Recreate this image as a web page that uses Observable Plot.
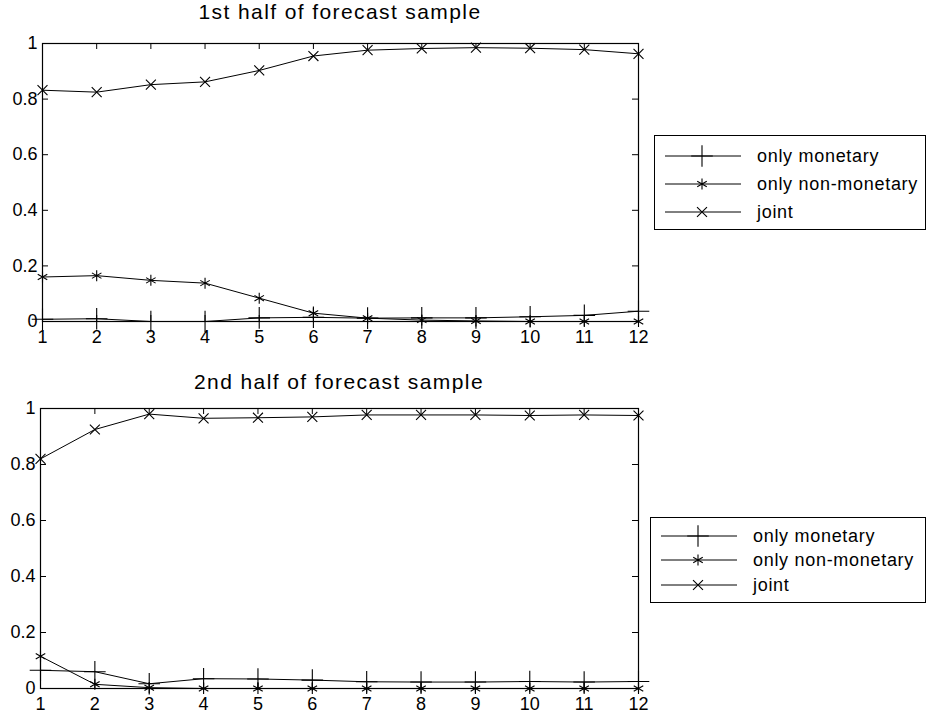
<!DOCTYPE html>
<html>
<head>
<meta charset="utf-8">
<script src="https://cdn.jsdelivr.net/npm/d3@7"></script>
<script src="https://cdn.jsdelivr.net/npm/@observablehq/plot@0.6"></script>
<style>
  body { margin: 0; background: #fff; font-family: "Liberation Sans", Arial, sans-serif; }
  #wrap { position: relative; width: 928px; height: 724px; overflow: hidden; }
  .panel { position: absolute; left: 0; }
  .title { position: absolute; font-size: 21px; letter-spacing: 1.4px; color: #000; white-space: nowrap; transform: translateX(-50%); }
  .legend { position: absolute; border: 1.5px solid #000; background: #fff; box-sizing: border-box; }
  .legend .row { position: absolute; left: 0; height: 24px; display: flex; align-items: center; }
  .legend .row span { font-size: 18px; letter-spacing: 0.7px; }
</style>
</head>
<body>
<div id="wrap"></div>
<script>
// ---- data ----
const horizons = [1, 2, 3, 4, 5, 6, 7, 8, 9, 10, 11, 12];
const seriesNames = ["only monetary", "only non-monetary", "joint"];
const titles = ["1st half of forecast sample", "2nd half of forecast sample"];

const first_monetary    = [0.008, 0.010, 0.000, 0.000, 0.013, 0.015, 0.012, 0.013, 0.013, 0.017, 0.022, 0.037];
const first_nonmonetary = [0.160, 0.165, 0.148, 0.138, 0.084, 0.030, 0.012, 0.005, 0.002, 0.000, 0.000, 0.000];
const first_joint       = [0.832, 0.825, 0.852, 0.862, 0.903, 0.955, 0.976, 0.982, 0.985, 0.983, 0.978, 0.963];

const second_monetary    = [0.065, 0.060, 0.017, 0.035, 0.034, 0.030, 0.024, 0.023, 0.023, 0.025, 0.023, 0.025];
const second_nonmonetary = [0.115, 0.015, 0.003, 0.000, 0.000, 0.000, 0.000, 0.000, 0.000, 0.000, 0.000, 0.000];
const second_joint       = [0.820, 0.925, 0.980, 0.965, 0.967, 0.970, 0.977, 0.977, 0.977, 0.975, 0.977, 0.975];

const yTicks = [0, 0.2, 0.4, 0.6, 0.8, 1];
const xTicks = horizons;

// ---- styling ----
const symbols = {"only monetary": "plus", "only non-monetary": "asterisk", "joint": "times"};
const radii = {"only monetary": 7, "only non-monetary": 5.2, "joint": 4.6};
const d3Symbols = {"plus": d3.symbolPlus, "asterisk": d3.symbolAsterisk, "times": d3.symbolTimes};

function toRows(mon, non, joint) {
  const rows = [];
  horizons.forEach((h, i) => {
    rows.push({h, v: mon[i], s: seriesNames[0]});
    rows.push({h, v: non[i], s: seriesNames[1]});
    rows.push({h, v: joint[i], s: seriesNames[2]});
  });
  return rows;
}

const panels = [
  {rows: toRows(first_monetary, first_nonmonetary, first_joint), top: 0, height: 362, mt: 43, mb: 41, ml: 42, title: titles[0], titleY: 0, legend: {left: 654, top: 135, width: 272, height: 95, rowTops: [8, 36, 64]}},
  {rows: toRows(second_monetary, second_nonmonetary, second_joint), top: 365, height: 359, mt: 43, mb: 36, ml: 40, title: titles[1], titleY: 370, legend: {left: 650, top: 517, width: 276, height: 86, rowTops: [6, 30, 55]}}
];

const wrap = document.getElementById("wrap");
const W = 928, MR = 290;

panels.forEach(p => {
  const fw = W - p.ml - MR;
  const fh = p.height - p.mt - p.mb;
  const tick = 6;
  const marks = [
    Plot.frame({stroke: "#000", strokeWidth: 1.2}),
    // inward ticks on all four sides
    Plot.tickY(yTicks, {y: d => d, insetRight: fw - tick, stroke: "#000"}),
    Plot.tickY(yTicks, {y: d => d, insetLeft: fw - tick, stroke: "#000"}),
    Plot.tickX(xTicks, {x: d => d, insetTop: fh - tick, stroke: "#000"}),
    Plot.tickX(xTicks, {x: d => d, insetBottom: fh - tick, stroke: "#000"}),
    Plot.axisX({ticks: xTicks, tickSize: 0, tickPadding: 9, tickFormat: d => String(d), fontSize: 18, label: null}),
    Plot.axisY({ticks: yTicks, tickSize: 0, tickPadding: 5, tickFormat: d => String(d), fontSize: 18, label: null}),
  ];
  seriesNames.forEach(name => {
    const data = p.rows.filter(r => r.s === name);
    marks.push(Plot.line(data, {x: "h", y: "v", stroke: "#000", strokeWidth: 1}));
    marks.push(Plot.dot(data, {x: "h", y: "v", symbol: () => symbols[name], r: radii[name], stroke: "#000", strokeWidth: 1.1, fill: "none"}));
  });
  const chart = Plot.plot({
    width: W,
    height: p.height,
    marginLeft: p.ml,
    marginRight: MR,
    marginTop: p.mt,
    marginBottom: p.mb,
    x: {domain: [1, 12], axis: null},
    y: {domain: [0, 1], axis: null},
    symbol: {domain: ["plus", "asterisk", "times"], range: ["plus", "asterisk", "times"]},
    style: {fontFamily: "'Liberation Sans', Arial, sans-serif", color: "#000", background: "transparent", overflow: "visible"},
    marks
  });
  chart.classList.add("panel");
  chart.style.top = p.top + "px";
  wrap.appendChild(chart);

  // title
  const t = document.createElement("div");
  t.className = "title";
  t.textContent = p.title;
  t.style.left = (p.ml + fw / 2) + "px";
  t.style.top = p.titleY + "px";
  wrap.appendChild(t);

  // legend
  const lg = document.createElement("div");
  lg.className = "legend";
  Object.assign(lg.style, {left: p.legend.left + "px", top: p.legend.top + "px", width: p.legend.width + "px", height: p.legend.height + "px"});
  seriesNames.forEach((name, i) => {
    const row = document.createElement("div");
    row.className = "row";
    row.style.top = p.legend.rowTops[i] + "px";
    const sw = d3.create("svg").attr("width", 90).attr("height", 24).style("margin-left", "10px");
    sw.append("line").attr("x1", 0).attr("x2", 76).attr("y1", 12).attr("y2", 12).attr("stroke", "#000").attr("stroke-width", 1);
    const r = radii[name];
    sw.append("path")
      .attr("d", d3.symbol(d3Symbols[symbols[name]], Math.PI * r * r)())
      .attr("transform", "translate(37,12)")
      .attr("fill", "none").attr("stroke", "#000").attr("stroke-width", 1.1);
    row.appendChild(sw.node());
    const sp = document.createElement("span");
    sp.textContent = name;
    sp.style.marginLeft = "2px";
    row.appendChild(sp);
    lg.appendChild(row);
  });
  wrap.appendChild(lg);
});
</script>
</body>
</html>
